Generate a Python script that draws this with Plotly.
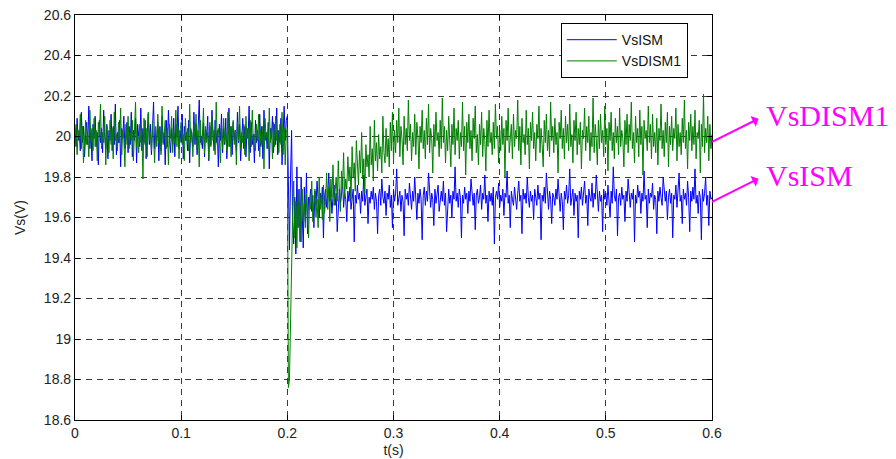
import numpy as np
import plotly.graph_objects as go

t_start = 0.0
t_end = 0.6

# VsISM : before the step (0 .. 0.199 s)
ism_pre = [
    20.04, 19.95, 20.09, 19.98, 20.02, 19.93, 20.12, 19.97, 20.05, 19.90,
    20.01, 20.07, 19.96, 20.15, 19.94, 20.03, 19.88, 20.06, 19.99, 20.10,
    19.95, 20.02, 19.86, 20.08, 19.97, 20.04, 19.92, 20.13, 20.00, 19.94,
    20.06, 19.89, 20.03, 19.98, 20.11, 19.93, 20.05, 19.96, 20.16, 19.91,
    20.02, 19.97, 20.08, 19.85, 20.04, 19.99, 20.10, 19.94, 20.01, 20.07,
    19.92, 20.05, 19.96, 20.12, 19.90, 20.03, 19.98, 20.09, 19.87, 20.06,
    20.00, 19.95, 20.14, 19.93, 20.04, 19.97, 20.08, 19.89, 20.02, 20.11,
    19.96, 20.06, 19.91, 20.03, 20.17, 19.94, 20.01, 19.98, 20.07, 19.88,
    20.05, 19.93, 20.10, 19.97, 20.02, 19.86, 20.08, 19.95, 20.13, 19.99,
    19.92, 20.04, 19.96, 20.09, 19.90, 20.06, 20.00, 20.15, 19.94, 20.03,
    19.97, 20.11, 19.89, 20.05, 19.98, 20.02, 19.93, 20.08, 19.87, 20.04,
    20.01, 19.95, 20.12, 19.96, 20.06, 19.91, 20.03, 20.18, 19.97, 20.00,
    19.94, 20.07, 19.90, 20.04, 19.99, 20.10, 19.88, 20.05, 19.96, 20.13,
    20.02, 19.93, 20.08, 19.97, 20.03, 19.85, 20.06, 19.98, 20.11, 19.92,
    20.04, 19.96, 20.09, 19.89, 20.01, 20.14, 19.95, 20.05, 19.91, 20.07,
    19.98, 20.03, 19.93, 20.12, 19.97, 20.06, 19.88, 20.02, 20.09, 19.94,
    20.05, 19.90, 20.04, 19.99, 20.15, 19.92, 20.07, 19.96, 20.01, 19.87,
    20.08, 19.97, 20.03, 19.93, 20.11, 19.95, 20.05, 19.89, 20.13, 19.98,
    20.02, 19.94, 20.07, 19.84, 20.04, 19.99, 20.10, 19.92, 20.06, 19.96,
    20.14, 19.91, 20.03, 19.97, 20.09, 19.86, 20.05, 20.15, 19.98, 20.08,
]
# VsISM : the step transient (0.200 .. 0.220 s)
ism_step = [
    20.10, 19.62, 19.44, 19.80, 20.03, 19.58, 19.47, 19.70, 19.42, 19.85,
    19.55, 19.74, 19.48, 19.80, 19.60, 19.45, 19.75, 19.58, 19.82, 19.52,
    19.70,
]
# VsISM : after the step (0.221 .. 0.600 s)
ism_post = [
    19.68, 19.74, 19.63, 19.71, 19.55, 19.73, 19.66, 19.78, 19.69, 19.60,
    19.72, 19.67, 19.75, 19.50, 19.70, 19.74, 19.65, 19.71, 19.82, 19.68,
    19.73, 19.62, 19.70, 19.76, 19.66, 19.72, 19.53, 19.69, 19.74, 19.67,
    19.71, 19.79, 19.65, 19.72, 19.69, 19.58, 19.73, 19.68, 19.75, 19.64,
    19.70, 19.74, 19.48, 19.71, 19.67, 19.76, 19.69, 19.72, 19.62, 19.73,
    19.68, 19.81, 19.66, 19.71, 19.74, 19.57, 19.70, 19.67, 19.73, 19.69,
    19.75, 19.64, 19.72, 19.68, 19.52, 19.71, 19.74, 19.66, 19.79, 19.70,
    19.67, 19.73, 19.61, 19.72, 19.69, 19.76, 19.65, 19.71, 19.55, 19.74,
    19.68, 19.72, 19.84, 19.66, 19.70, 19.73, 19.63, 19.71, 19.68, 19.51,
    19.74, 19.69, 19.72, 19.66, 19.77, 19.70, 19.64, 19.73, 19.68, 19.80,
    19.71, 19.59, 19.72, 19.67, 19.74, 19.69, 19.49, 19.71, 19.75, 19.66,
    19.73, 19.68, 19.82, 19.70, 19.65, 19.72, 19.69, 19.56, 19.74, 19.67,
    19.71, 19.76, 19.63, 19.70, 19.73, 19.68, 19.78, 19.66, 19.72, 19.53,
    19.69, 19.74, 19.67, 19.71, 19.60, 19.73, 19.69, 19.85, 19.68, 19.72,
    19.65, 19.74, 19.70, 19.50, 19.71, 19.67, 19.75, 19.69, 19.72, 19.62,
    19.73, 19.68, 19.79, 19.70, 19.66, 19.72, 19.54, 19.71, 19.74, 19.67,
    19.70, 19.76, 19.64, 19.72, 19.69, 19.81, 19.67, 19.71, 19.58, 19.73,
    19.68, 19.72, 19.66, 19.75, 19.47, 19.70, 19.73, 19.69, 19.77, 19.65,
    19.71, 19.68, 19.74, 19.61, 19.72, 19.70, 19.83, 19.67, 19.71, 19.55,
    19.73, 19.69, 19.66, 19.75, 19.70, 19.64, 19.72, 19.78, 19.68, 19.71,
    19.52, 19.74, 19.69, 19.72, 19.67, 19.80, 19.70, 19.65, 19.73, 19.68,
    19.71, 19.59, 19.74, 19.70, 19.66, 19.76, 19.69, 19.72, 19.49, 19.71,
    19.68, 19.75, 19.67, 19.82, 19.70, 19.64, 19.73, 19.69, 19.57, 19.72,
    19.70, 19.66, 19.74, 19.69, 19.79, 19.71, 19.63, 19.72, 19.68, 19.54,
    19.73, 19.69, 19.76, 19.67, 19.71, 19.84, 19.66, 19.70, 19.74, 19.61,
    19.72, 19.68, 19.71, 19.50, 19.73, 19.69, 19.75, 19.66, 19.72, 19.78,
    19.67, 19.71, 19.56, 19.74, 19.70, 19.68, 19.77, 19.65, 19.72, 19.69,
    19.81, 19.70, 19.63, 19.73, 19.68, 19.71, 19.53, 19.74, 19.69, 19.72,
    19.66, 19.76, 19.70, 19.60, 19.73, 19.67, 19.85, 19.71, 19.68, 19.74,
    19.51, 19.70, 19.72, 19.66, 19.75, 19.69, 19.71, 19.58, 19.73, 19.68,
    19.79, 19.70, 19.65, 19.72, 19.69, 19.74, 19.48, 19.71, 19.67, 19.76,
    19.70, 19.73, 19.62, 19.72, 19.68, 19.83, 19.69, 19.71, 19.55, 19.74,
    19.67, 19.72, 19.70, 19.77, 19.64, 19.71, 19.69, 19.52, 19.73, 19.68,
    19.75, 19.70, 19.66, 19.80, 19.71, 19.68, 19.73, 19.59, 19.70, 19.74,
    19.67, 19.72, 19.50, 19.71, 19.69, 19.76, 19.65, 19.73, 19.82, 19.68,
    19.71, 19.57, 19.74, 19.69, 19.72, 19.66, 19.78, 19.70, 19.53, 19.73,
    19.68, 19.75, 19.69, 19.84, 19.67, 19.71, 19.62, 19.73, 19.70, 19.49,
    19.74, 19.68, 19.72, 19.80, 19.66, 19.71, 19.56, 19.73, 19.69, 19.70,
]

# VsDISM1 : before the step (0 .. 0.199 s)
dism_pre = [
    19.97, 20.06, 19.91, 20.03, 19.99, 20.11, 19.94, 20.05, 19.87, 20.02,
    20.08, 19.96, 20.01, 19.90, 20.13, 19.98, 20.04, 19.93, 20.09, 19.95,
    20.03, 19.88, 20.07, 20.00, 20.16, 19.94, 20.02, 19.97, 20.10, 19.86,
    20.05, 19.99, 19.92, 20.08, 19.96, 20.04, 19.89, 20.12, 19.98, 20.01,
    19.93, 20.07, 19.97, 20.14, 19.91, 20.03, 19.99, 19.85, 20.06, 19.96,
    20.10, 19.94, 20.02, 19.98, 20.08, 19.88, 20.05, 20.17, 19.95, 20.00,
    19.92, 20.06, 19.97, 20.03, 19.79, 20.09, 19.96, 20.04, 19.90, 20.12,
    19.98, 20.02, 19.93, 20.07, 19.99, 19.87, 20.05, 19.95, 20.11, 19.97,
    20.03, 19.91, 20.15, 19.96, 20.01, 20.08, 19.94, 20.04, 19.86, 20.06,
    19.99, 20.10, 19.92, 20.02, 19.97, 20.13, 19.95, 20.05, 19.89, 20.03,
    20.07, 19.96, 20.01, 19.88, 20.09, 19.98, 20.04, 19.93, 20.16, 19.97,
    20.02, 19.90, 20.06, 19.99, 20.11, 19.94, 20.03, 19.85, 20.08, 19.96,
    20.00, 20.14, 19.92, 20.05, 19.97, 20.02, 19.89, 20.07, 19.95, 20.10,
    19.98, 20.03, 19.91, 20.17, 19.96, 20.04, 19.99, 19.87, 20.06, 19.94,
    20.09, 19.97, 20.02, 19.93, 20.12, 19.95, 20.05, 19.90, 20.01, 20.08,
    19.96, 20.03, 19.86, 20.07, 19.98, 20.15, 19.94, 20.02, 19.97, 20.06,
    19.91, 20.10, 19.99, 20.04, 19.88, 20.08, 19.95, 20.13, 19.97, 20.01,
    19.93, 20.06, 19.98, 20.11, 19.90, 20.03, 19.96, 20.05, 19.84, 20.09,
    19.99, 20.02, 19.94, 20.14, 19.97, 20.04, 19.89, 20.07, 19.95, 20.10,
    19.98, 20.03, 19.92, 20.06, 19.96, 20.12, 19.91, 20.04, 19.86, 20.02,
]
# VsDISM1 : the step transient (0.200 .. 0.215 s)
dism_step = [
    20.04, 18.76, 18.80, 19.10, 19.35, 19.62, 19.78, 19.50, 19.68, 19.45,
    19.72, 19.55, 19.66, 19.48, 19.74, 19.58,
]
# VsDISM1 : slow recovery (0.216 .. 0.300 s)
dism_ramp = [
    19.67, 19.55, 19.72, 19.60, 19.50, 19.70, 19.64, 19.78, 19.58, 19.66,
    19.74, 19.60, 19.69, 19.55, 19.80, 19.64, 19.71, 19.59, 19.76, 19.62,
    19.68, 19.82, 19.64, 19.75, 19.58, 19.79, 19.70, 19.86, 19.66, 19.73,
    19.80, 19.68, 19.88, 19.72, 19.63, 19.83, 19.75, 19.92, 19.70, 19.79,
    19.74, 19.90, 19.78, 19.85, 19.69, 19.95, 19.80, 19.87, 19.73, 19.98,
    19.84, 19.76, 19.93, 19.82, 20.02, 19.79, 19.89, 19.72, 19.96, 19.85,
    19.91, 19.80, 20.05, 19.86, 19.94, 19.78, 20.08, 19.88, 19.97, 19.83,
    20.01, 19.89, 19.95, 19.82, 20.10, 19.92, 19.87, 20.04, 19.90, 19.99,
    19.85, 20.07, 19.93, 20.12, 19.88,
]
# VsDISM1 : after recovery (0.301 .. 0.600 s)
dism_post = [
    20.03, 19.92, 20.08, 19.97, 20.14, 19.90, 20.05, 19.99, 19.86, 20.10,
    19.96, 20.04, 19.93, 20.18, 19.98, 20.06, 19.88, 20.02, 19.95, 20.11,
    19.91, 20.07, 20.00, 19.84, 20.05, 19.97, 20.13, 19.94, 20.03, 19.89,
    20.09, 19.96, 20.16, 19.92, 20.04, 19.99, 19.82, 20.06, 19.95, 20.12,
    19.98, 20.02, 19.90, 20.08, 19.94, 20.19, 19.97, 20.05, 19.87, 20.03,
    19.93, 20.10, 19.99, 19.85, 20.06, 19.96, 20.14, 19.91, 20.04, 19.98,
    20.08, 19.89, 20.02, 19.95, 20.17, 19.93, 20.05, 19.81, 20.07, 19.97,
    20.11, 19.94, 20.03, 19.88, 20.09, 19.99, 20.15, 19.92, 20.01, 19.86,
    20.06, 19.96, 20.12, 19.90, 20.04, 19.98, 19.83, 20.08, 19.95, 20.13,
    19.97, 20.02, 19.91, 20.07, 19.94, 20.16, 19.99, 20.05, 19.87, 20.03,
    19.93, 20.10, 19.96, 20.04, 19.80, 20.08, 19.98, 20.14, 19.92, 20.02,
    20.06, 19.89, 20.11, 19.95, 20.03, 19.99, 20.18, 19.93, 20.05, 19.86,
    20.09, 19.97, 20.01, 19.91, 20.13, 19.96, 20.04, 19.84, 20.07, 19.98,
    20.12, 19.94, 20.02, 19.88, 20.06, 19.99, 20.15, 19.92, 20.04, 19.96,
    19.85, 20.08, 19.97, 20.11, 19.93, 20.03, 19.90, 20.17, 19.98, 20.05,
    19.92, 20.09, 19.96, 20.02, 19.82, 20.07, 19.99, 20.13, 19.94, 20.04,
    19.89, 20.10, 19.97, 20.06, 19.93, 20.16, 19.95, 20.01, 19.87, 20.08,
    19.98, 20.12, 19.91, 20.04, 19.96, 20.07, 19.84, 20.03, 19.99, 20.14,
    19.93, 20.05, 19.97, 20.10, 19.88, 20.02, 19.95, 20.19, 19.92, 20.06,
    19.99, 19.86, 20.08, 19.94, 20.11, 19.97, 20.03, 19.90, 20.15, 19.96,
    20.04, 19.83, 20.07, 19.98, 20.12, 19.93, 20.02, 19.89, 20.09, 19.97,
    20.05, 19.91, 20.14, 19.95, 20.03, 19.99, 19.85, 20.08, 19.96, 20.11,
    19.92, 20.06, 19.98, 20.17, 19.94, 20.02, 19.87, 20.10, 19.97, 20.04,
    19.90, 20.13, 19.96, 20.05, 19.81, 20.08, 19.99, 20.03, 19.93, 20.15,
    19.97, 20.06, 19.89, 20.11, 19.95, 20.02, 19.92, 20.09, 19.86, 20.04,
    19.98, 20.16, 19.94, 20.03, 19.90, 20.07, 19.97, 20.12, 19.85, 20.05,
    19.96, 20.10, 19.93, 20.04, 19.99, 20.14, 19.88, 20.06, 19.95, 20.02,
    19.91, 20.09, 19.97, 20.18, 19.94, 20.03, 19.84, 20.07, 19.98, 20.11,
    19.93, 20.05, 19.96, 20.13, 19.89, 20.02, 19.99, 20.08, 19.82, 20.06,
    19.95, 20.21, 19.92, 20.04, 19.97, 20.10, 19.88, 20.06, 19.94, 20.01,
]

vs_ism = ism_pre + ism_step + ism_post
vs_dism1 = dism_pre + dism_step + dism_ramp + dism_post

x_ticks = [0, 0.1, 0.2, 0.3, 0.4, 0.5, 0.6]
x_tick_labels = ["0", "0.1", "0.2", "0.3", "0.4", "0.5", "0.6"]
y_ticks = [18.6, 18.8, 19.0, 19.2, 19.4, 19.6, 19.8, 20.0, 20.2, 20.4, 20.6]
y_tick_labels = ["18.6", "18.8", "19", "19.2", "19.4", "19.6", "19.8", "20", "20.2", "20.4", "20.6"]

series_names = ["VsISM", "VsDISM1"]
series_colors = ["#0000FF", "#007F00"]
callout_labels = ["VsDISM1", "VsISM"]
callout_levels = [19.973, 19.677]   # level on the right edge where each arrow starts

t_ism = np.linspace(t_start, t_end, len(vs_ism))
t_dism = np.linspace(t_start, t_end, len(vs_dism1))

fig = go.Figure()
fig.add_trace(go.Scatter(x=t_ism, y=vs_ism, mode="lines", name=series_names[0],
                         line=dict(color=series_colors[0], width=1)))
fig.add_trace(go.Scatter(x=t_dism, y=vs_dism1, mode="lines", name=series_names[1],
                         line=dict(color=series_colors[1], width=1)))

font_family = "Liberation Sans, Arial, Helvetica, sans-serif"
axis_common = dict(
    showline=True, linecolor="black", linewidth=1.2, mirror="ticks",
    ticks="inside", ticklen=5, tickcolor="black",
    showgrid=True, gridcolor="#3a3a3a", gridwidth=1, griddash="6px,5px",
    zeroline=False, automargin=False, ticklabeloverflow="allow",
    tickfont=dict(size=14, color="#222", family=font_family),
)

# The page body has an 8 px default margin, so the figure is drawn 8 px smaller
fig.update_layout(
    width=888, height=451,
    margin=dict(l=67, r=184, t=7, b=39),
    paper_bgcolor="white", plot_bgcolor="white",
    font=dict(family=font_family, size=14, color="#222"),
    xaxis=dict(range=[t_start, t_end], tickvals=x_ticks, ticktext=x_tick_labels,
               title=dict(text="t(s)", standoff=5, font=dict(size=14)), **axis_common),
    yaxis=dict(range=[18.6, 20.6], tickvals=y_ticks, ticktext=y_tick_labels,
               title=dict(text="Vs(V)", standoff=14, font=dict(size=14)), **axis_common),
    legend=dict(x=0.962, y=0.980, xanchor="right", yanchor="top",
                bgcolor="white", bordercolor="black", borderwidth=1,
                font=dict(size=14, family=font_family, color="#111"),
                itemwidth=50, tracegroupgap=0),
    showlegend=True,
)

# magenta callouts: arrows start at the right edge of the axes
arrow_dx = 48
arrow_dy = -24
for lbl, lvl in zip(callout_labels, callout_levels):
    fig.add_annotation(
        x=1.0, y=lvl, xref="paper", yref="y",
        ax=arrow_dx, ay=arrow_dy, axref="pixel", ayref="pixel",
        showarrow=True, arrowhead=2, arrowsize=1.8, arrowwidth=2,
        arrowcolor="#FF00FF", text="", standoff=0, startstandoff=0,
        arrowside="start",
    )
    fig.add_annotation(
        x=1.0, y=lvl, xref="paper", yref="y",
        xshift=arrow_dx + 4, yshift=-arrow_dy + 2,
        text=lbl, showarrow=False, xanchor="left", yanchor="middle",
        font=dict(family="Liberation Serif, Times New Roman, serif", size=30, color="#FF00FF"),
    )

fig.write_html("out.html")
